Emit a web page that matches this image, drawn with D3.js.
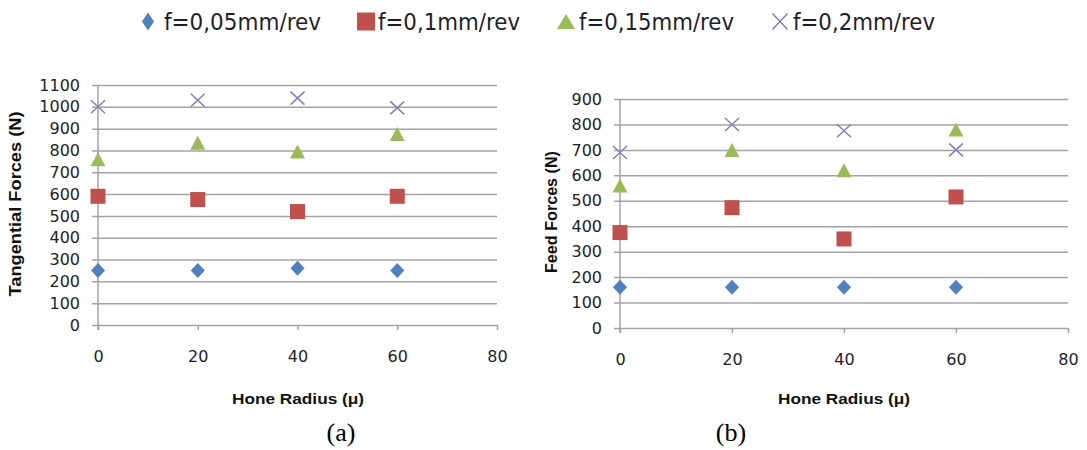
<!DOCTYPE html>
<html>
<head>
<meta charset="utf-8">
<script src="https://cdn.jsdelivr.net/npm/d3@7"></script>
<style>
  body { margin: 0; background: #fff; }
  svg { display: block; }
</style>
</head>
<body>
<div id="chart"></div>
<script>
// Hone radius values (x) shared by both panels
const honeRadius = [0, 20, 40, 60];
const xTicks = [0, 20, 40, 60, 80];

const seriesNames = ['f=0,05mm/rev', 'f=0,1mm/rev', 'f=0,15mm/rev', 'f=0,2mm/rev'];

// (a) Tangential forces (N)
const tangential005 = [250, 250, 260, 250];
const tangential010 = [590, 575, 520, 590];
const tangential015 = [760, 835, 795, 875];
const tangential020 = [1000, 1030, 1040, 995];
const tangentialTicks = [0, 100, 200, 300, 400, 500, 600, 700, 800, 900, 1000, 1100];

// (b) Feed forces (N)
const feed005 = [160, 160, 160, 160];
const feed010 = [375, 473, 350, 515];
const feed015 = [560, 700, 620, 780];
const feed020 = [690, 800, 775, 700];
const feedTicks = [0, 100, 200, 300, 400, 500, 600, 700, 800, 900];

const colors = ['#4F81BD', '#C0504D', '#9BBB59', '#8f7ab8'];
const shapes = ['diamond', 'square', 'triangle', 'cross'];

const W = 1087, H = 450;
const gridColor = '#a3a3a3';
const textColor = '#1e1e2a';

const svg = d3.select('#chart').append('svg')
    .attr('width', W)
    .attr('height', H);

// Draw one marker shape centred at 0,0
function drawMarker(g, shape, color, w, h) {
    if (shape === 'diamond') {
        g.append('path')
            .attr('d', `M0,${-h / 2}L${w / 2},0L0,${h / 2}L${-w / 2},0Z`)
            .attr('fill', color);
    } else if (shape === 'square') {
        g.append('rect')
            .attr('x', -w / 2).attr('y', -h / 2)
            .attr('width', w).attr('height', h)
            .attr('fill', color);
    } else if (shape === 'triangle') {
        g.append('path')
            .attr('d', `M0,${-h / 2}L${w / 2},${h / 2}L${-w / 2},${h / 2}Z`)
            .attr('fill', color);
    } else {
        g.append('path')
            .attr('d', `M${-w / 2},${-h / 2}L${w / 2},${h / 2}M${w / 2},${-h / 2}L${-w / 2},${h / 2}`)
            .attr('stroke', color)
            .attr('stroke-width', 1.5)
            .attr('fill', 'none');
    }
}

// Draw a panel
function drawPanel(cfg) {
    const x = d3.scaleLinear().domain([0, 80]).range([cfg.left, cfg.right]);
    const y = d3.scaleLinear().domain([0, cfg.yMax]).range([cfg.bottom, cfg.top]);
    const g = svg.append('g');

    // Horizontal gridlines + y labels
    const yAxis = d3.axisLeft(y)
        .tickValues(cfg.yTicks)
        .tickFormat(d3.format('d'))
        .tickSizeInner(-(cfg.right - cfg.left + 6))
        .tickSizeOuter(0)
        .tickPadding(12);
    const ya = g.append('g')
        .attr('transform', `translate(${cfg.left - 6},0)`)
        .call(yAxis);
    ya.select('.domain').remove();
    ya.selectAll('line').attr('stroke', gridColor).attr('stroke-width', 1.5);
    ya.selectAll('text')
        .attr('fill', textColor)
        .style('font-family', 'DejaVu Sans')
        .style('font-size', '16px');

    // Vertical axis line
    g.append('line')
        .attr('x1', cfg.left).attr('x2', cfg.left)
        .attr('y1', y(cfg.yMax)).attr('y2', cfg.bottom + 5)
        .attr('stroke', gridColor).attr('stroke-width', 1.5);

    // X axis ticks + labels
    const xAxis = d3.axisBottom(x)
        .tickValues(xTicks)
        .tickSizeInner(5)
        .tickSizeOuter(0)
        .tickPadding(cfg.xPad);
    const xa = g.append('g')
        .attr('transform', `translate(0,${cfg.bottom})`)
        .call(xAxis);
    xa.select('.domain').remove();
    xa.selectAll('line').attr('stroke', gridColor).attr('stroke-width', 1.5);
    xa.selectAll('text')
        .attr('fill', textColor)
        .style('font-family', 'DejaVu Sans')
        .style('font-size', '16px');

    // Series markers
    cfg.series.forEach((vals, i) => {
        vals.forEach((v, j) => {
            const m = g.append('g')
                .attr('transform', `translate(${x(honeRadius[j])},${y(v)})`);
            const sz = [[14, 15], [15, 15], [15, 14], [14, 13]][i];
            drawMarker(m, shapes[i], colors[i], sz[0], sz[1]);
        });
    });

    // Y title
    g.append('text')
        .attr('transform', `translate(${cfg.yTitleX},${cfg.yTitleY}) rotate(-90)`)
        .attr('text-anchor', 'middle')
        .attr('fill', '#111')
        .attr('textLength', cfg.yTitleLen)
        .attr('lengthAdjust', 'spacingAndGlyphs')
        .style('font-family', 'Liberation Sans')
        .style('font-weight', 'bold')
        .style('font-size', '16px')
        .text(cfg.yTitle);

    // X title
    g.append('text')
        .attr('x', (cfg.xTitleX))
        .attr('y', 404)
        .attr('text-anchor', 'middle')
        .attr('fill', '#111')
        .attr('textLength', 132)
        .attr('lengthAdjust', 'spacingAndGlyphs')
        .style('font-family', 'Liberation Sans')
        .style('font-weight', 'bold')
        .style('font-size', '15px')
        .text('Hone Radius  (\u03bc)');

    // Panel caption
    g.append('text')
        .attr('x', cfg.captionX)
        .attr('y', 441)
        .attr('text-anchor', 'middle')
        .attr('fill', '#000')
        .style('font-family', 'Liberation Serif')
        .style('font-size', '26px')
        .text(cfg.caption);
}

drawPanel({
    left: 98, right: 497, top: 85, bottom: 325, yMax: 1100,
    yTicks: tangentialTicks, xPad: 21,
    series: [tangential005, tangential010, tangential015, tangential020],
    yTitle: 'Tangential Forces  (N)', yTitleX: 21, yTitleY: 204, yTitleLen: 185,
    xTitleX: 298, caption: '(a)', captionX: 341
});

drawPanel({
    left: 620, right: 1068, top: 99, bottom: 328, yMax: 900,
    yTicks: feedTicks, xPad: 21,
    series: [feed005, feed010, feed015, feed020],
    yTitle: 'Feed Forces  (N)', yTitleX: 557, yTitleY: 212, yTitleLen: 122,
    xTitleX: 844, caption: '(b)', captionX: 731
});

// Legend
const legendMarkerX = [148, 366, 566, 780];
const legendTextX = [164, 378, 579, 793];
const legendTextLen = [157, 142, 155, 142];
const legendSizes = [[12, 18], [18, 18], [18, 15], [15, 16]];
const legend = svg.append('g');
seriesNames.forEach((name, i) => {
    const m = legend.append('g')
        .attr('transform', `translate(${legendMarkerX[i]},21.5)`);
    drawMarker(m, shapes[i], colors[i], legendSizes[i][0], legendSizes[i][1]);
    legend.append('text')
        .attr('x', legendTextX[i])
        .attr('y', 29.5)
        .attr('fill', textColor)
        .attr('textLength', legendTextLen[i])
        .attr('lengthAdjust', 'spacingAndGlyphs')
        .style('font-family', 'DejaVu Sans')
        .style('font-size', '23px')
        .text(name);
});
</script>
</body>
</html>
